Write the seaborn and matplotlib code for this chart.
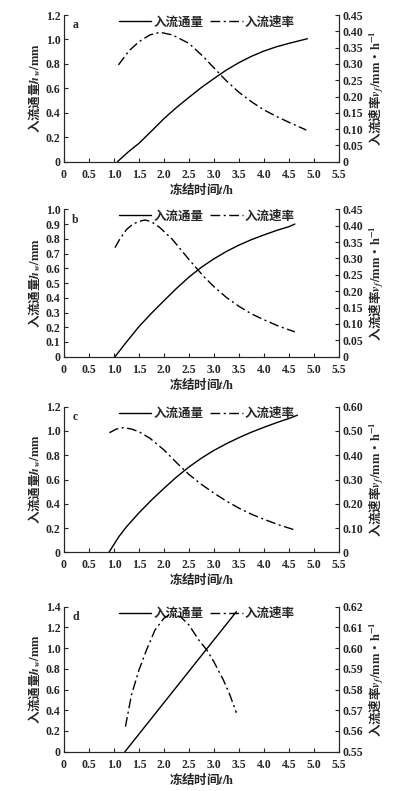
import numpy as np
import pandas as pd
import matplotlib
matplotlib.use('Agg')
import matplotlib.pyplot as plt
import seaborn as sns

# panel a
a_t_cum = [1.07, 1.3, 1.5, 1.75, 2.0, 2.25, 2.5, 2.75, 3.0, 3.25, 3.5, 3.75, 4.0, 4.25, 4.5, 4.87]
a_cum = [0.0, 0.085, 0.15, 0.25, 0.352, 0.443, 0.526, 0.607, 0.68, 0.75, 0.81, 0.862, 0.905, 0.94, 0.968, 1.006]
a_t_rate = [1.09, 1.3, 1.5, 1.72, 1.92, 2.17, 2.5, 2.79, 3.0, 3.25, 3.5, 3.75, 4.0, 4.25, 4.5, 4.85]
a_rate = [0.297, 0.34, 0.368, 0.389, 0.397, 0.389, 0.363, 0.322, 0.288, 0.248, 0.213, 0.184, 0.159, 0.139,
          0.121, 0.097]

# panel b
b_t_cum = [1.02, 1.25, 1.5, 1.75, 2.0, 2.25, 2.5, 2.75, 3.0, 3.25, 3.5, 3.75, 4.0, 4.25, 4.5, 4.62]
b_cum = [0.0, 0.1, 0.204, 0.295, 0.38, 0.463, 0.54, 0.607, 0.664, 0.714, 0.757, 0.794, 0.826, 0.856, 0.882, 0.9]
b_t_rate = [1.02, 1.12, 1.25, 1.37, 1.5, 1.62, 1.75, 1.92, 2.17, 2.5, 2.79, 3.0, 3.25, 3.5, 3.75, 4.0, 4.3, 4.62]
b_rate = [0.333, 0.36, 0.388, 0.404, 0.413, 0.4175, 0.412, 0.394, 0.358, 0.297, 0.246, 0.214, 0.181, 0.154,
          0.131, 0.113, 0.093, 0.076]

# panel c
c_t_cum = [0.9, 1.1, 1.25, 1.5, 1.75, 2.0, 2.25, 2.5, 2.75, 3.0, 3.25, 3.5, 3.75, 4.0, 4.25, 4.5, 4.67]
c_cum = [0.0, 0.13, 0.21, 0.325, 0.43, 0.527, 0.62, 0.703, 0.776, 0.84, 0.895, 0.945, 0.99, 1.03, 1.068,
         1.103, 1.13]
c_t_rate = [0.91, 1.05, 1.19, 1.35, 1.5, 1.72, 2.0, 2.25, 2.5, 2.75, 3.0, 3.25, 3.5, 3.75, 4.0, 4.3, 4.62]
c_rate = [0.493, 0.508, 0.514, 0.508, 0.497, 0.47, 0.422, 0.37, 0.321, 0.28, 0.244, 0.211, 0.182, 0.157,
          0.136, 0.113, 0.092]

# panel d
d_t_cum = [1.22, 3.45]
d_cum = [0.0, 1.352]
d_t_rate = [1.23, 1.35, 1.5, 1.65, 1.82, 2.0, 2.12, 2.33, 2.5, 2.72, 2.85, 3.0, 3.19, 3.32, 3.45]
d_rate = [0.5621, 0.5774, 0.5894, 0.599, 0.6087, 0.6144, 0.6163, 0.6152, 0.6112, 0.6031, 0.5994, 0.5934,
          0.5846, 0.5774, 0.5688]

panels = [
    ('a', a_t_cum, a_cum, a_t_rate, a_rate, (0, 1.2), np.arange(0, 1.21, 0.2), (0, 0.45), np.arange(0, 0.451, 0.05)),
    ('b', b_t_cum, b_cum, b_t_rate, b_rate, (0, 1.0), np.arange(0, 1.01, 0.1), (0, 0.45), np.arange(0, 0.451, 0.05)),
    ('c', c_t_cum, c_cum, c_t_rate, c_rate, (0, 1.2), np.arange(0, 1.21, 0.2), (0, 0.60), np.arange(0, 0.601, 0.1)),
    ('d', d_t_cum, d_cum, d_t_rate, d_rate, (0, 1.4), np.arange(0, 1.41, 0.2), (0.55, 0.62), np.arange(0.55, 0.6201, 0.01)),
]

sns.set_style('ticks')
plt.rcParams['font.family'] = ['Liberation Serif', 'Noto Sans CJK SC']
plt.rcParams['font.weight'] = 'bold'
plt.rcParams['mathtext.fontset'] = 'stix'

fig = plt.figure(figsize=(3.96, 7.91), dpi=100)
boxes = [(0.7956, 0.1854), (0.549, 0.1864), (0.3018, 0.184), (0.0497, 0.1833)]
xt = np.arange(0, 5.51, 0.5)
cjk = 'Noto Sans CJK SC'


def fmt(v, dec):
    if abs(v) < 1e-9:
        return '0'
    return f'{v:.{dec}f}'


for (lab, tc, cum, tr, rate, lylim, lyt, rylim, ryt), (bot, h) in zip(panels, boxes):
    ax = fig.add_axes([0.1616, bot, 0.694, h])
    ax2 = ax.twinx()
    df1 = pd.DataFrame({'t': tc, 'v': cum})
    df2 = pd.DataFrame({'t': tr, 'v': rate})
    sns.lineplot(data=df1, x='t', y='v', ax=ax, color='black', lw=1.0, label='入流通量', legend=False)
    sns.lineplot(data=df2, x='t', y='v', ax=ax2, color='black', lw=1.0, ls=(0, (7, 2.5, 1.5, 2.5)),
                 label='入流速率', legend=False)
    ax.set_xlim(0, 5.5)
    ax.set_ylim(*lylim)
    ax2.set_ylim(*rylim)
    ax.set_xticks(xt)
    ax.set_xticklabels([fmt(v, 1) for v in xt])
    ax.set_yticks(lyt)
    ax.set_yticklabels([fmt(v, 1) for v in lyt])
    ax2.set_yticks(ryt)
    ax2.set_yticklabels([fmt(v, 2) for v in ryt])
    for a_ in (ax, ax2):
        a_.tick_params(direction='in', length=3, width=0.8, labelsize=8.5, pad=2.5)
        a_.spines['top'].set_visible(False)
        for s in a_.spines.values():
            s.set_linewidth(0.8)
    ax.tick_params(axis='x', pad=5)
    ax.set_xlabel('冻结时间$\\mathbfit{t}\\mathbf{/h}$', fontsize=9, fontweight='bold', family=cjk, labelpad=0)
    ax.set_ylabel('入流通量$\\mathbfit{h}_\\mathbfit{w}\\mathbf{/mm}$', fontsize=9, fontweight='bold',
                  family=cjk, labelpad=2)
    ax2.set_ylabel('入流速率$\\mathbfit{v}_\\mathbfit{f}\\mathbf{/mm}$·$\\mathbf{h^{-1}}$', fontsize=9,
                   fontweight='bold', family=cjk, labelpad=3)
    ax.text(0.03, 0.97, lab, transform=ax.transAxes, fontsize=8.5, fontweight='bold', va='top')
    h1, l1 = ax.get_legend_handles_labels()
    h2, l2 = ax2.get_legend_handles_labels()
    ax.legend(h1 + h2, l1 + l2, loc='upper center', bbox_to_anchor=(0.52, 1.075), ncol=2,
              frameon=False, handlelength=2.6, columnspacing=0.5, handletextpad=0.2,
              prop={'family': cjk, 'weight': 'bold', 'size': 9})

fig.savefig('out.png', dpi=100, facecolor='white')
